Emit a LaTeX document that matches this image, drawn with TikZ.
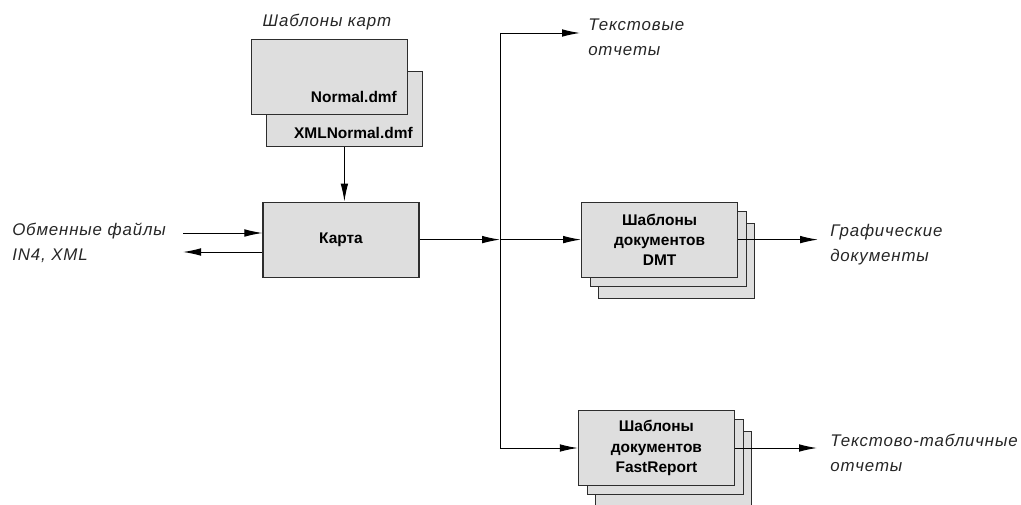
\documentclass[tikz,border=0pt]{standalone}
\usepackage{fontspec}
\setmainfont{Liberation Sans}
\newfontfamily\lblfont[LetterSpace=5]{Liberation Sans}
\usepackage{tikz}
\usetikzlibrary{arrows.meta,positioning,calc}
\definecolor{boxgray}{RGB}{222,222,222}
\definecolor{linegray}{RGB}{45,45,45}
\newcommand{\boxfont}{\bfseries\fontsize{11}{14.4}\selectfont}
\newcommand{\lblstyle}{\lblfont\itshape\fontsize{12}{17.7}\selectfont}

\begin{document}
\begin{tikzpicture}[
  box/.style={draw=linegray,fill=boxgray,line width=0.8pt,minimum width=3.9cm,
              minimum height=1.875cm,align=center,inner sep=0pt,font=\boxfont},
  lbl/.style={align=left,inner sep=0pt,font=\lblstyle,text=black!85},
  arr/.style={-{Latex[length=4.5mm,width=1.9mm]},line width=0.7pt,draw=black}]
\useasboundingbox (0,0) rectangle (25.525,-12.625);

% map templates
\node[lbl] (ttitle) at (8.175,-0.55) {Шаблоны карт};
\node[box] (tmplB) at (8.61,-2.725) {};
\node[box] (tmplA) at (8.24,-1.925) {};
\node[font=\boxfont,anchor=east,inner sep=0pt] (tnameB) at ([shift={(-0.25,0.35)}]tmplB.south east) {XMLNormal.dmf};
\node[font=\boxfont,anchor=east,inner sep=0pt] (tnameA) at ([shift={(-0.275,0.45)}]tmplA.south east) {Normal.dmf};

% map
\node[box] (karta) at (8.525,-5.99) {Карта};
\draw[arr] (tmplB.south) -- (tmplB.south |- karta.north);

% exchange files
\node[lbl,anchor=west] (exch) at (0.3,-6.075) {Обменные файлы\\IN4, XML};
\coordinate (inA) at (4.575,-5.825);
\coordinate (outA) at (4.575,-6.3);
\draw[arr] (inA) -- (inA -| karta.west);
\draw[arr] (outA -| karta.west) -- (outA);

% branch point
\coordinate (jn) at (12.5,-5.99);
\coordinate (jtop) at (12.5,-0.825);
\coordinate (jbot) at (12.5,-11.2);
\draw[arr] (karta.east) -- (jn);
\draw[line width=0.7pt] (jtop) -- (jbot);

% text reports
\coordinate (txtend) at (14.5,-0.825);
\node[lbl,anchor=west] (txtrep) at (14.7,-0.925) {Текстовые\\отчеты};
\draw[arr] (jtop) -- (txtend);

% DMT templates
\coordinate (dmtpos) at (16.49,-5.99);
\node[box] (dmt3) at ([shift={(0.43,-0.53)}]dmtpos) {};
\node[box] (dmt2) at ([shift={(0.22,-0.23)}]dmtpos) {};
\node[box] (dmt) at (dmtpos) {Шаблоны\\документов\\DMT};
\draw[arr] (jn) -- (dmt.west);
\coordinate (dmtend) at (20.45,-5.99);
\node[lbl,anchor=west] (graph) at (20.75,-6.125) {Графические\\документы};
\draw[arr] (dmt.east) -- (dmtend);

% FastReport templates
\coordinate (frpos) at (16.41,-11.2);
\node[box] (fr3) at ([shift={(0.43,-0.53)}]frpos) {};
\node[box] (fr2) at ([shift={(0.22,-0.23)}]frpos) {};
\node[box] (fr) at (frpos) {Шаблоны\\документов\\FastReport};
\draw[arr] (jbot) -- (fr.west);
\coordinate (frend) at (20.425,-11.2);
\node[lbl,anchor=west] (tabrep) at (20.75,-11.325) {Текстово-табличные\\отчеты};
\draw[arr] (fr.east) -- (frend);
\end{tikzpicture}
\end{document}
